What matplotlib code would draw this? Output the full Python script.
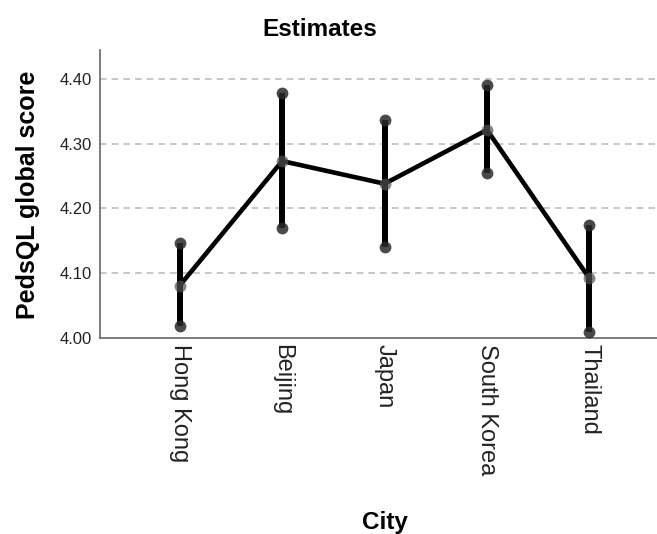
import matplotlib
matplotlib.use("Agg")
import matplotlib.pyplot as plt

cities = ["Hong Kong", "Beijing", "Japan", "South Korea", "Thailand"]
means = [4.081, 4.273, 4.238, 4.321, 4.092]
upper = [4.147, 4.378, 4.336, 4.391, 4.174]
lower = [4.018, 4.169, 4.141, 4.254, 4.009]
yticks = [4.00, 4.10, 4.20, 4.30, 4.40]

plt.rcParams["font.family"] = ["Liberation Sans", "DejaVu Sans"]

fig = plt.figure(figsize=(6.57, 5.34), dpi=100)
ax = fig.add_axes([0.152, 0.367, 0.848, 0.539])

x = list(range(len(cities)))

# grid lines behind everything
for t in yticks[1:]:
    ax.axhline(t, color="#bdbdbd", lw=1.2, ls=(0, (4, 3)), zorder=0)

# error bars (vertical lines with dots at the ends)
ax.vlines(x, lower, upper, color="black", lw=4.3, zorder=2)
ax.plot(x, means, color="black", lw=3.3, zorder=3)
ax.plot(x, upper, "o", color="#2a2a2a", alpha=0.85, ms=8.5, mec="none", zorder=4)
ax.plot(x, lower, "o", color="#2a2a2a", alpha=0.85, ms=8.5, mec="none", zorder=4)
ax.plot(x, means, "o", color="#505050", alpha=0.7, ms=8.5, mec="none", zorder=4)

ax.set_xlim(-0.78, 4.66)
ax.set_ylim(4.00, 4.444)
ax.set_yticks(yticks)
ax.set_yticklabels(["%.2f" % t for t in yticks], fontsize=12, color="#222222")
ax.set_xticks(x)
ax.set_xticklabels(cities, rotation=270, fontsize=17, va="top", ha="center", color="#222222")
ax.tick_params(axis="both", length=0, pad=4)
ax.tick_params(axis="y", pad=6)

for s in ["top", "right"]:
    ax.spines[s].set_visible(False)
for s in ["left", "bottom"]:
    ax.spines[s].set_color("#666666")
    ax.spines[s].set_linewidth(1.2)

fig.text(0.487, 0.944, "Estimates", ha="center", va="center", fontsize=17.5, fontweight="bold")
fig.text(0.043, 0.635, "PedsQL global score", ha="center", va="center", rotation=90,
         fontsize=18, fontweight="bold")
fig.text(0.586, 0.022, "City", ha="center", va="center", fontsize=17.5, fontweight="bold")

fig.savefig("out.png", dpi=100, facecolor="white")
